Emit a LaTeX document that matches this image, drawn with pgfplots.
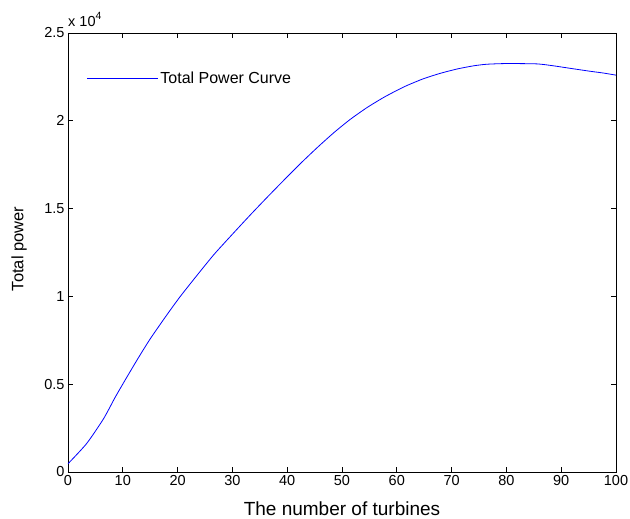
\documentclass[border=0pt]{standalone}
\usepackage{pgfplots}
\pgfplotsset{compat=1.18}
\usepackage{fontspec}
\setmainfont{Liberation Sans}
\begin{document}
\begin{tikzpicture}
\begin{axis}[
  scale only axis,
  width=548pt, height=439pt,
  xmin=0, xmax=100, ymin=0, ymax=25000,
  xtick={0,10,...,100},
  ytick={0,5000,10000,15000,20000,25000},
  yticklabels={0,0.5,1,1.5,2,2.5},
  scaled y ticks=false,
  /pgf/number format/assume math mode=true,
  tick label style={font=\fontsize{14.5}{17}\selectfont},
  tick align=inside,
  major tick length=5pt,
  axis line style={line width=0.8pt},
  every tick/.style={black, line width=0.8pt},
  xlabel={The number of turbines},
  ylabel={Total power},
  xlabel style={font=\fontsize{19}{22}\selectfont, at={(axis description cs:0.5,0)}, anchor=base, yshift=-43.7pt},
  ylabel style={font=\fontsize{16.5}{19}\selectfont, at={(axis description cs:0,0.508)}, anchor=center, yshift=49pt},
  legend style={draw=none, fill=none, at={(axis description cs:0.034,0.897)}, anchor=west, inner sep=0pt, outer sep=0pt, font=\fontsize{16}{19}\selectfont, column sep=0pt},
  legend image code/.code={\draw[#1] (0pt,0pt) -- (52pt,0pt); \path (0pt,0pt) -- (71pt,0pt);},
  after end axis/.code={
    \node[anchor=base west, inner sep=0pt, font=\fontsize{14.5}{17}\selectfont] at ([yshift=6.3pt]rel axis cs:0,1) {x 10\raisebox{7.5pt}{\fontsize{10.5}{12}\selectfont 4}};
  },
]
\addplot[blue, line width=0.8pt, smooth, tension=0.4] coordinates {
(0,470) (3.4,1620) (6.5,3040) (8.6,4250) (10.7,5380) (12.8,6480) (15.0,7580)
(18.0,8930) (20.4,9960) (22.9,10950) (25.3,11880) (26.9,12480) (30.0,13540)
(33.3,14650) (36.3,15630) (39.4,16620) (42.4,17560) (45.5,18480) (48.5,19320)
(51.5,20080) (54.6,20760) (57.6,21330) (60.2,21760) (62.0,22030) (64.9,22400)
(67.9,22700) (71.0,22950) (74.0,23130) (76.4,23220) (80.0,23260) (85.6,23240)
(88.6,23130) (91.6,22990) (95.3,22820) (97.7,22720) (100,22600)
};
\addlegendentry{Total Power Curve}
\end{axis}
\pgfresetboundingbox
\path[use as bounding box] ([shift={(-68pt,-47pt)}]current axis.south west) rectangle ([shift={(14pt,33pt)}]current axis.north east);
\end{tikzpicture}
\end{document}
